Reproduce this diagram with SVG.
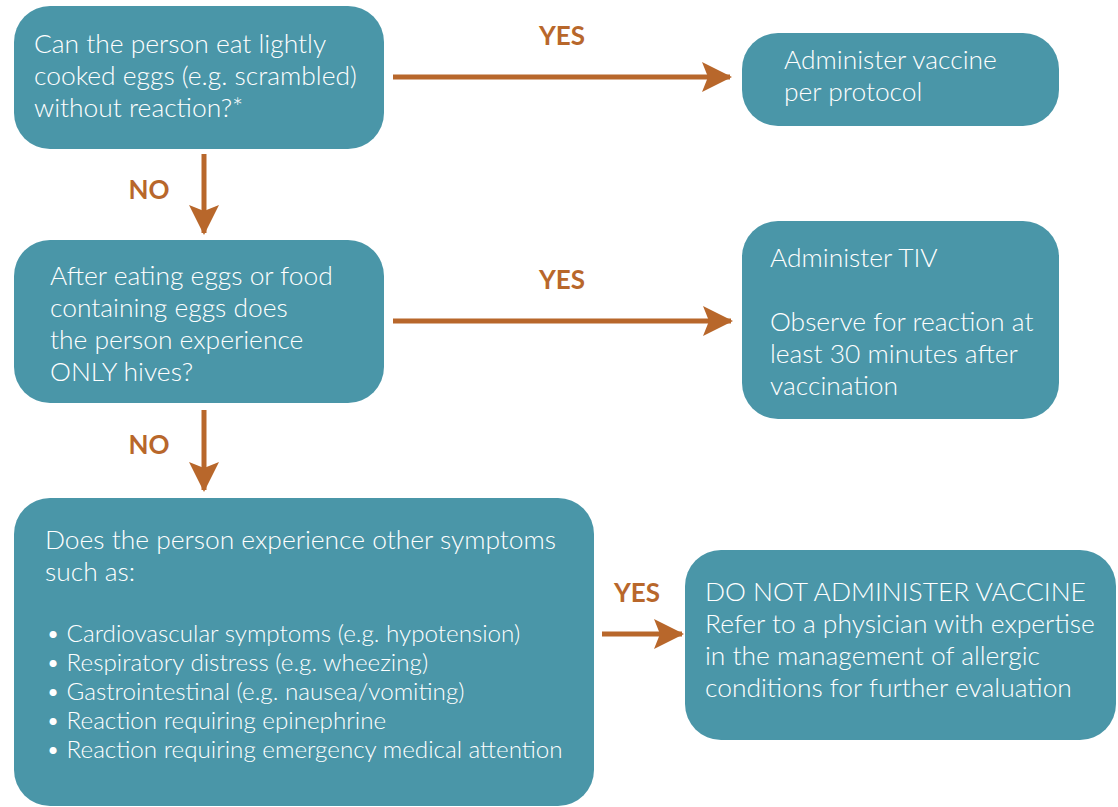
<svg xmlns="http://www.w3.org/2000/svg" width="1118" height="807" viewBox="0 0 1118 807">
<defs>
<marker id="ah" markerWidth="6" markerHeight="6" refX="5.6" refY="3" orient="auto" markerUnits="strokeWidth">
<path d="M0,0 L6,3 L0,6 L1.2,3 Z" fill="#B8672B"/>
</marker>
</defs>
<style>
.box{fill:#4A96A8;}
.t{font-family:"Lato","Open Sans",sans-serif;font-size:26.4px;font-weight:300;fill:#ffffff;}
.b{font-family:"Lato","Open Sans",sans-serif;font-size:24.2px;font-weight:300;fill:#ffffff;}
.lbl{font-family:"Lato","Open Sans",sans-serif;font-size:26px;font-weight:bold;fill:#B8672B;text-anchor:middle;}
.c{stroke:#B8672B;stroke-width:5;fill:none;marker-end:url(#ah);}
</style>
<rect width="1118" height="807" fill="#ffffff"/>
<g id="connectors">
<line class="c" x1="393" y1="77" x2="730" y2="77"/>
<line class="c" x1="204" y1="154" x2="204" y2="233"/>
<line class="c" x1="393" y1="321" x2="731" y2="321"/>
<line class="c" x1="204" y1="410" x2="204" y2="490"/>
<line class="c" x1="602" y1="634" x2="682" y2="634"/>
<text class="lbl" x="562" y="45">YES</text>
<text class="lbl" x="149" y="199">NO</text>
<text class="lbl" x="562" y="289">YES</text>
<text class="lbl" x="149" y="454">NO</text>
<text class="lbl" x="637" y="602">YES</text>
</g>
<g id="q1">
<rect class="box" x="14" y="6" width="370" height="143" rx="36"/>
<text class="t" x="34" y="53">Can the person eat lightly</text>
<text class="t" x="34" y="85">cooked eggs (e.g. scrambled)</text>
<text class="t" x="34" y="117">without reaction?*</text>
</g>
<g id="a1">
<rect class="box" x="742" y="33" width="317" height="93" rx="36"/>
<text class="t" x="784" y="69">Administer vaccine</text>
<text class="t" x="784" y="101">per protocol</text>
</g>
<g id="q2">
<rect class="box" x="14" y="240" width="370" height="163" rx="36"/>
<text class="t" x="50" y="285">After eating eggs or food</text>
<text class="t" x="50" y="317">containing eggs does</text>
<text class="t" x="50" y="349">the person experience</text>
<text class="t" x="50" y="381">ONLY hives?</text>
</g>
<g id="a2">
<rect class="box" x="742" y="221" width="317" height="198" rx="36"/>
<text class="t" x="770" y="267">Administer TIV</text>
<text class="t" x="770" y="331">Observe for reaction at</text>
<text class="t" x="770" y="363">least 30 minutes after</text>
<text class="t" x="770" y="395">vaccination</text>
</g>
<g id="q3">
<rect class="box" x="14" y="498" width="580" height="308" rx="36"/>
<text class="t" x="45" y="549">Does the person experience other symptoms</text>
<text class="t" x="45" y="581">such as:</text>
<text class="b" x="46" y="642">• Cardiovascular symptoms (e.g. hypotension)</text>
<text class="b" x="46" y="671">• Respiratory distress (e.g. wheezing)</text>
<text class="b" x="46" y="700">• Gastrointestinal (e.g. nausea/vomiting)</text>
<text class="b" x="46" y="729">• Reaction requiring epinephrine</text>
<text class="b" x="46" y="758">• Reaction requiring emergency medical attention</text>
</g>
<g id="a3">
<rect class="box" x="685" y="550" width="431" height="190" rx="36"/>
<text class="t" x="705" y="601">DO NOT ADMINISTER VACCINE</text>
<text class="t" x="705" y="633">Refer to a physician with expertise</text>
<text class="t" x="705" y="665">in the management of allergic</text>
<text class="t" x="705" y="697">conditions for further evaluation</text>
</g>
</svg>
